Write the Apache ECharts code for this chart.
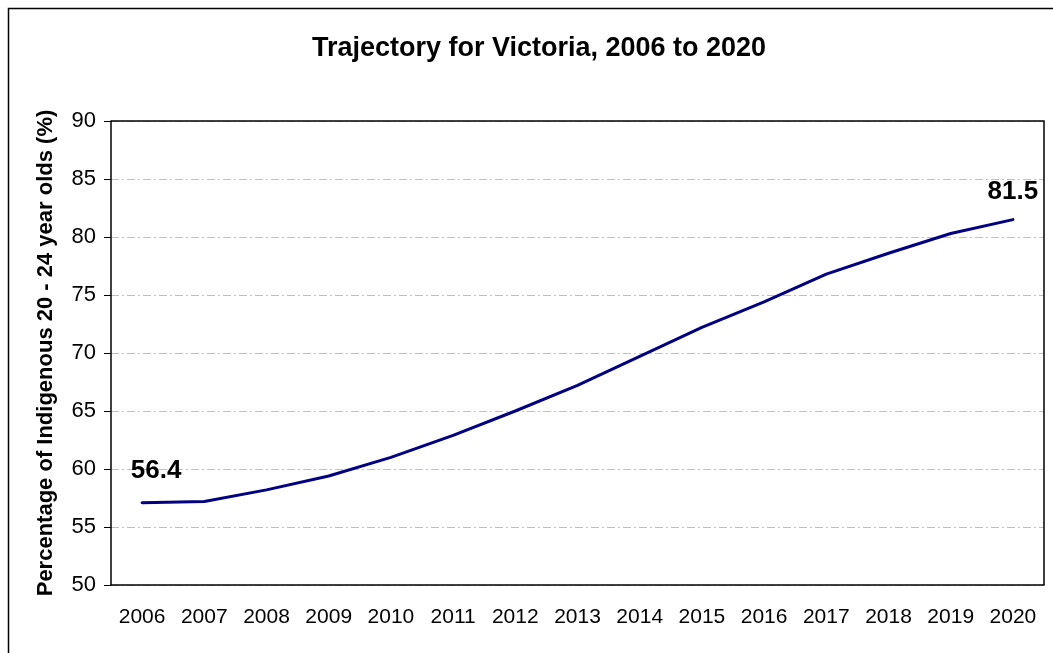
<!DOCTYPE html>
<html>
<head>
<meta charset="utf-8">
<script src="https://cdn.jsdelivr.net/npm/echarts@6/dist/echarts.min.js"></script>
<style>
  html, body { margin: 0; padding: 0; background: #fff; }
  #chart { width: 1053px; height: 653px; }
</style>
</head>
<body>
<div id="chart"></div>
<script>
  // data
  const years = ['2006', '2007', '2008', '2009', '2010', '2011', '2012', '2013',
    '2014', '2015', '2016', '2017', '2018', '2019', '2020']
  const trajectory = [57.1, 57.2, 58.2, 59.4, 61.0, 62.9, 65.0, 67.2,
    69.7, 72.2, 74.4, 76.8, 78.6, 80.3, 81.5]
  // printed labels on the ends of the line
  const endLabels = { 0: '56.4', 14: '81.5' }

  const chart = echarts.init(document.getElementById('chart'))

  const seriesData = trajectory.map((v, i) => {
    const item = { value: v }
    if (endLabels[i] !== undefined) {
      item.label = {
        show: true,
        formatter: endLabels[i],
        position: 'top',
        distance: i === 0 ? 18 : 14,
        offset: i === 0 ? [14, 0] : [0, 0]
      }
    }
    return item
  })

  chart.setOption({
    animation: false,
    textStyle: { fontFamily: 'Liberation Sans, Arial, sans-serif' },
    title: {
      text: 'Trajectory for Victoria, 2006 to 2020',
      left: 534,
      textAlign: 'center',
      top: 30,
      textStyle: { fontSize: 27, fontWeight: 'bold', color: '#000' }
    },
    graphic: [{
      // outer frame
      type: 'rect',
      shape: { x: 8.5, y: 8.5, width: 1100, height: 700 },
      style: { fill: 'none', stroke: '#000', lineWidth: 1.5 },
      silent: true
    }, {
      // right and top plot border
      type: 'polyline',
      shape: { points: [[111, 121], [1044, 121], [1044, 585]] },
      style: { fill: 'none', stroke: '#000', lineWidth: 1.5 },
      z: 10,
      silent: true
    }],
    grid: { left: 111, right: 9, top: 121, bottom: 68 },
    xAxis: {
      type: 'category',
      data: years,
      boundaryGap: true,
      axisLine: { lineStyle: { color: '#000', width: 1.5 } },
      axisTick: { interval: 0, length: 7, lineStyle: { color: '#000' } },
      axisLabel: { interval: 0, color: '#000', fontSize: 21, margin: 22 },
      splitLine: { show: false }
    },
    yAxis: {
      type: 'value',
      min: 50,
      max: 90,
      interval: 5,
      name: 'Percentage of Indigenous 20 - 24 year olds (%)',
      nameLocation: 'middle',
      nameGap: 54,
      nameTextStyle: { fontSize: 22, fontWeight: 'bold', color: '#000' },
      axisLine: { show: true, lineStyle: { color: '#000', width: 1.5 } },
      axisTick: { show: true, length: 7, lineStyle: { color: '#000' } },
      axisLabel: { color: '#000', fontSize: 22, margin: 15 },
      splitLine: { lineStyle: { color: '#c0c0c0', type: [8, 3, 2, 3], width: 1 } }
    },
    series: [{
      type: 'line',
      data: seriesData,
      smooth: false,
      symbol: 'circle',
      symbolSize: 1,
      showSymbol: true,
      itemStyle: { color: '#000080' },
      lineStyle: { color: '#000080', width: 3, cap: 'round', join: 'round' },
      label: { color: '#000', fontSize: 26, fontWeight: 'bold' },
      z: 5
    }]
  })
</script>
</body>
</html>
